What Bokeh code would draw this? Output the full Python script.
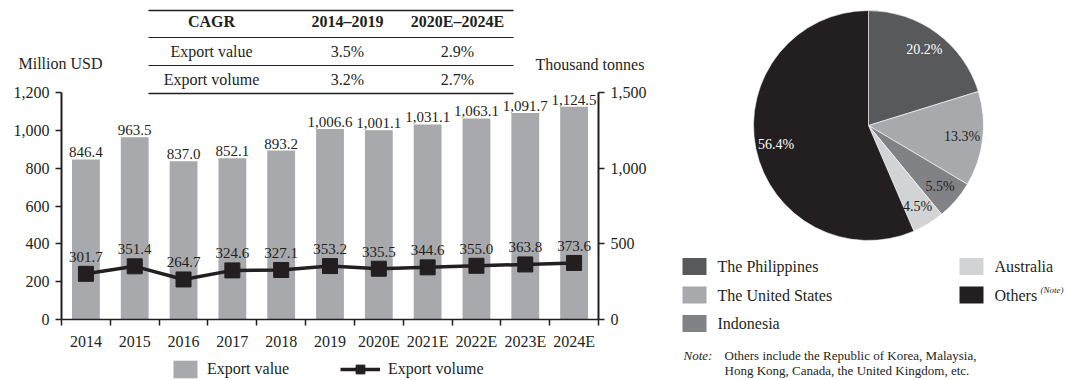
import numpy as np
from bokeh.plotting import figure
from bokeh.models import (Range1d, LinearAxis, FixedTicker, NumeralTickFormatter,
                          Label, Legend, LegendItem)
from bokeh.embed import file_html
from bokeh.resources import INLINE
from bokeh.core.properties import value

# ---------------- data ----------------
years = ["2014", "2015", "2016", "2017", "2018", "2019",
         "2020E", "2021E", "2022E", "2023E", "2024E"]
export_value = [846.4, 963.5, 837.0, 852.1, 893.2, 1006.6,
                1001.1, 1031.1, 1063.1, 1091.7, 1124.5]
export_volume = [301.7, 351.4, 264.7, 324.6, 327.1, 353.2,
                 335.5, 344.6, 355.0, 363.8, 373.6]
value_ticks = [0, 200, 400, 600, 800, 1000, 1200]
volume_ticks = [0, 500, 1000, 1500]

cagr_header = ["CAGR", "2014\u20132019", "2020E\u20132024E"]
cagr_rows = ["Export value", "Export volume"]
cagr_2014_2019 = ["3.5%", "3.2%"]
cagr_2020_2024 = ["2.9%", "2.7%"]

markets = ["The Philippines", "The United States", "Indonesia", "Australia", "Others"]
shares = [20.2, 13.3, 5.5, 4.5, 56.4]
share_colors = ["#58595b", "#a7a9ac", "#808285", "#d1d3d4", "#231f20"]
share_label_colors = ["white", "#231f20", "#231f20", "#231f20", "white"]

note_lines = ["Others include the Republic of Korea, Malaysia,",
              "Hong Kong, Canada, the United Kingdom, etc."]

# ---------------- layout constants (canvas pixels) ----------------
FONT = "Liberation Serif"
INK = "#231f20"
W, H = 1067, 380
FL, FR, FB, FT = 61, 598, 319, 92   # axis left / right / zero line / top tick
n = len(years)
centers = [i + 0.5 for i in range(n)]
kx = (FR - FL) / n                          # px per category
kv = (FB - FT) / value_ticks[-1]            # px per million USD
kt = (FB - FT) / volume_ticks[-1]           # px per thousand tonnes

p = figure(width=W, height=H, output_backend="svg", toolbar_location=None,
           x_range=Range1d(-FL / kx, (W - FL) / kx),
           y_range=Range1d(-(H - FB) / kv, FB / kv),
           min_border=0, min_border_left=0, min_border_right=0,
           min_border_top=0, min_border_bottom=0)
p.extra_y_ranges = {"vol": Range1d(-(H - FB) / kt, FB / kt),
                    "py": Range1d(0, H)}
p.extra_x_ranges = {"px": Range1d(0, W)}
p.outline_line_color = None
p.grid.visible = False
p.background_fill_color = "white"
p.border_fill_color = "white"


def dx(X):
    return (X - FL) / kx


def dy(Y):
    return (FB - Y) / kv


# x axis
xa = p.xaxis[0]
xa.fixed_location = 0
xa.bounds = (0, n)
xa.ticker = FixedTicker(ticks=centers, minor_ticks=list(range(n + 1)))
xa.major_label_overrides = {c: y for c, y in zip(centers, years)}
xa.major_tick_out = 0
xa.major_tick_in = 0
xa.minor_tick_out = 6
xa.minor_tick_in = 0
xa.minor_tick_line_color = INK
xa.minor_tick_line_width = 1.5
xa.axis_line_color = INK
xa.axis_line_width = 1.5
xa.major_label_standoff = 7
xa.major_label_text_font = FONT
xa.major_label_text_font_size = "16px"
xa.major_label_text_color = INK

# left / right axes
ya = p.yaxis[0]
ya.fixed_location = 0
ya.ticker = FixedTicker(ticks=value_ticks)
ya.formatter = NumeralTickFormatter(format="0,0")
ya.bounds = (value_ticks[0], value_ticks[-1])
yr = LinearAxis(y_range_name="vol", ticker=FixedTicker(ticks=volume_ticks),
                formatter=NumeralTickFormatter(format="0,0"),
                bounds=(volume_ticks[0], volume_ticks[-1]), fixed_location=n)
p.add_layout(yr, "right")
for ax in (ya, yr):
    ax.axis_line_color = INK
    ax.axis_line_width = 2
    ax.major_tick_out = 6
    ax.major_tick_in = 0
    ax.major_tick_line_color = INK
    ax.major_tick_line_width = 1.5
    ax.minor_tick_out = 0
    ax.minor_tick_in = 0
    ax.major_label_standoff = 6
    ax.major_label_text_font = FONT
    ax.major_label_text_font_size = "16px"
    ax.major_label_text_color = INK

# bars
bars = p.vbar(x=centers, top=export_value, width=0.57, fill_color="#a7a9ac",
              line_color=None)
p.text(x=centers, y=export_value, text=[f"{v:,.1f}" for v in export_value],
       text_align="center", text_baseline="alphabetic", y_offset=-7,
       text_font=value(FONT), text_font_size="15px", text_color=INK)

# line
ln = p.line(x=centers, y=export_volume, y_range_name="vol", line_color=INK,
            line_width=3.5)
mk = p.scatter(x=centers, y=export_volume, y_range_name="vol", marker="square",
               size=15, fill_color=INK, line_color=INK)
p.text(x=centers, y=export_volume, y_range_name="vol",
       text=[f"{v:,.1f}" for v in export_volume],
       text_align="center", text_baseline="alphabetic", y_offset=-17,
       text_font=value(FONT), text_font_size="15px", text_color=INK)

# axis titles
p.add_layout(Label(x=dx(18), y=dy(63), text="Million USD", text_font=FONT,
                   text_font_size="16px", text_color=INK, text_baseline="middle",
                   text_align="left"))
p.add_layout(Label(x=dx(535), y=dy(64), text="Thousand tonnes", text_font=FONT,
                   text_font_size="16px", text_color=INK, text_baseline="middle",
                   text_align="left"))

# CAGR table
tl, tr = dx(148), dx(513)
line_ys = [dy(10), dy(37), dy(65), dy(93)]
p.segment(x0=[tl] * 4, x1=[tr] * 4, y0=line_ys, y1=line_ys, line_color=INK,
          line_width=[1.6, 1.1, 1.1, 1.6])
col_x = [dx(211), dx(347), dx(457)]
p.text(x=col_x, y=[dy(21)] * 3, text=cagr_header, text_align="center",
       text_baseline="middle", text_font=value(FONT), text_font_size="16px",
       text_font_style="bold", text_color=INK)
row_y = [dy(51), dy(79)]
for xs, col in zip(col_x, [cagr_rows, cagr_2014_2019, cagr_2020_2024]):
    p.text(x=[xs] * len(col), y=row_y, text=col, text_align="center",
           text_baseline="middle", text_font=value(FONT), text_font_size="16px",
           text_color=INK)

# legends of the combo chart
leg_common = dict(orientation="horizontal", glyph_height=22, padding=0,
                  margin=0, border_line_color=None, background_fill_alpha=0,
                  label_text_font=FONT, label_text_font_size="16px",
                  label_text_color=INK)
leg1 = Legend(items=[LegendItem(label="Export value", renderers=[bars])],
              location=(170, 0), glyph_width=30, label_standoff=7, **leg_common)
leg2 = Legend(items=[LegendItem(label="Export volume", renderers=[ln, mk])],
              location=(340, 0), glyph_width=40, label_standoff=8, **leg_common)
p.add_layout(leg1)
p.add_layout(leg2)

# ---------------- pie (pixel ranges "px"/"py", y upwards) ----------------
def qy(Y):
    return H - Y


cx, cy, R = 868, qy(125), 115
frac = np.array(shares) / np.sum(shares)
cum = np.concatenate([[0.0], np.cumsum(frac)]) * 2 * np.pi
start = np.pi / 2 - cum[:-1]
end = np.pi / 2 - cum[1:]
p.wedge(x=cx, y=cy, radius=R, start_angle=start, end_angle=end,
        direction="clock", fill_color=share_colors, line_color="white",
        line_width=0.6, x_range_name="px", y_range_name="py")
mid = np.pi / 2 - (cum[:-1] + cum[1:]) / 2
lr = 0.82 * R
p.text(x=cx + lr * np.cos(mid), y=cy + lr * np.sin(mid),
       text=[f"{s:.1f}%" for s in shares], text_color=share_label_colors,
       text_align="center", text_baseline="middle", text_font=value(FONT),
       text_font_size="14px", x_range_name="px", y_range_name="py")

# pie legend
sw_x = [694] * 3 + [971] * 2
sw_y = [qy(266), qy(294.5), qy(323), qy(266), qy(294.5)]
p.rect(x=sw_x, y=sw_y, width=24, height=17, fill_color=share_colors,
       line_color=None, x_range_name="px", y_range_name="py")
p.text(x=[sx + 23 for sx in sw_x], y=sw_y, text=markets, text_align="left",
       text_baseline="middle", text_font=value(FONT), text_font_size="16px",
       text_color=INK, x_range_name="px", y_range_name="py")
p.text(x=[1040], y=[qy(289)], text=["(Note)"], text_align="left",
       text_baseline="middle", text_font=value(FONT), text_font_size="9px",
       text_font_style="italic", text_color=INK, x_range_name="px",
       y_range_name="py")
p.text(x=[683], y=[qy(355)], text=["Note:"], text_align="left",
       text_baseline="middle", text_font=value(FONT), text_font_size="13px",
       text_font_style="italic", text_color=INK, x_range_name="px",
       y_range_name="py")
p.text(x=[724] * 2, y=[qy(355), qy(370)], text=note_lines, text_align="left",
       text_baseline="middle", text_font=value(FONT), text_font_size="13px",
       text_color=INK, x_range_name="px", y_range_name="py")

open("out.html", "w").write(file_html(p, INLINE))
